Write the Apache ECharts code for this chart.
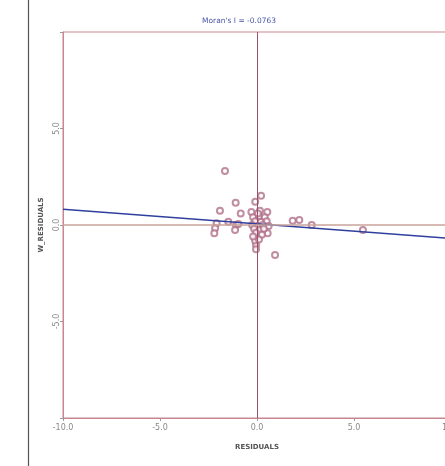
<!DOCTYPE html>
<html>
<head>
<meta charset="utf-8">
<script src="https://cdn.jsdelivr.net/npm/echarts@6/dist/echarts.min.js"></script>
<style>
  html, body { margin: 0; padding: 0; background: #fff; }
  #chart { width: 445px; height: 466px; }
</style>
</head>
<body>
<div id="chart"></div>
<script>
var titleText = "Moran's I = -0.0763";
var xName = 'RESIDUALS';
var yName = 'W_RESIDUALS';

// residuals vs spatially lagged residuals
var residuals = [-1.65, 0.21, -0.09, -1.10, -1.91, -0.84, -0.29, 0.15, 0.53, -1.48,
    -2.08, -2.16, -2.20, -1.08, -1.13, -0.96, 0.55, -0.02, -0.05, 0.93,
    1.84, 2.18, 2.82, 5.46,
    -0.20, 0.10, 0.40, -0.10, 0.20, 0.50, -0.25, 0.05, 0.30, 0.60,
    -0.15, 0.15, 0.35, -0.05, 0.25, -0.10, 0.10, -0.05, 0.05, -0.20];
var wResiduals = [2.80, 1.51, 1.20, 1.15, 0.74, 0.60, 0.67, 0.74, 0.67, 0.17,
    0.09, -0.17, -0.43, 0.00, -0.26, 0.05, -0.43, -0.60, -1.03, -1.55,
    0.22, 0.26, 0.00, -0.26,
    0.40, 0.45, 0.40, 0.20, 0.15, 0.20, 0.00, -0.05, 0.00, -0.05,
    -0.20, -0.25, -0.20, -0.40, -0.50, -0.80, -0.75, -1.25, 0.60, -0.60];

// fitted line ends
var fitX = [-10, 10];
var fitY = [0.82, -0.70];

var xTickLabels = ['-10.0', '-5.0', '0.0', '5.0', '10.0'];
var yTickLabels = ['', '-5.0', '0.0', '5.0', ''];

var pts = residuals.map(function (x, i) { return [x, wResiduals[i]]; });
var fit = fitX.map(function (x, i) { return [x, fitY[i]]; });

function fmtFrom(labels) {
    return function (v) {
        var idx = Math.round((v + 10) / 5);
        return labels[idx] !== undefined ? labels[idx] : '';
    };
}

var myChart = echarts.init(document.getElementById('chart'));
var frameColor = '#c98590';
var option = {
    animation: false,
    backgroundColor: '#fff',
    title: {
        text: titleText,
        left: 197,
        top: 12,
        textStyle: { fontSize: 7.5, fontWeight: 'normal', color: '#4a58a8', fontFamily: 'DejaVu Sans' }
    },
    graphic: [{
        type: 'line',
        shape: { x1: 28.5, y1: 0, x2: 28.5, y2: 466 },
        style: { stroke: '#555', lineWidth: 1.2 }
    }],
    grid: {
        left: 63, top: 32, right: -6, bottom: 48,
        outerBoundsMode: 'none',
        containLabel: false,
        show: true, borderColor: frameColor, borderWidth: 1
    },
    xAxis: {
        type: 'value', min: -10, max: 10, interval: 5,
        name: xName, nameLocation: 'middle', nameGap: 26,
        nameTextStyle: { fontSize: 7, color: '#555', fontWeight: 'bold', fontFamily: 'DejaVu Sans' },
        axisLine: { show: true, onZero: false, lineStyle: { color: frameColor } },
        axisTick: { show: true, length: 3, lineStyle: { color: '#999' } },
        axisLabel: { fontSize: 8, color: '#888', formatter: fmtFrom(xTickLabels), margin: 6, fontFamily: 'DejaVu Sans' },
        splitLine: { show: false }
    },
    yAxis: {
        type: 'value', min: -10, max: 10, interval: 5,
        name: yName, nameLocation: 'middle', nameGap: 11, nameRotate: 90,
        nameTextStyle: { fontSize: 7, color: '#555', fontWeight: 'bold', fontFamily: 'DejaVu Sans' },
        axisLine: { show: true, onZero: false, lineStyle: { color: frameColor } },
        axisTick: { show: true, length: 3, lineStyle: { color: '#999' } },
        axisLabel: { fontSize: 8, color: '#888', rotate: 90, formatter: fmtFrom(yTickLabels), margin: 2, fontFamily: 'DejaVu Sans' },
        splitLine: { show: false }
    },
    series: [
        {
            type: 'scatter',
            data: pts,
            symbol: 'emptyCircle',
            symbolSize: 6,
            itemStyle: { color: '#b0708a', borderColor: '#b0708a', borderWidth: 0.8 },
            markLine: {
                silent: true,
                symbol: 'none',
                label: { show: false },
                data: [
                    { xAxis: 0, lineStyle: { color: '#9a5068', type: 'solid', width: 1 } },
                    { yAxis: 0, lineStyle: { color: '#c9a39a', type: 'solid', width: 1.5 } }
                ]
            },
            z: 3
        },
        {
            type: 'line',
            data: fit,
            symbol: 'none',
            lineStyle: { color: '#2f3f9e', width: 1.5 },
            z: 4
        }
    ]
};
myChart.setOption(option);
</script>
</body>
</html>
